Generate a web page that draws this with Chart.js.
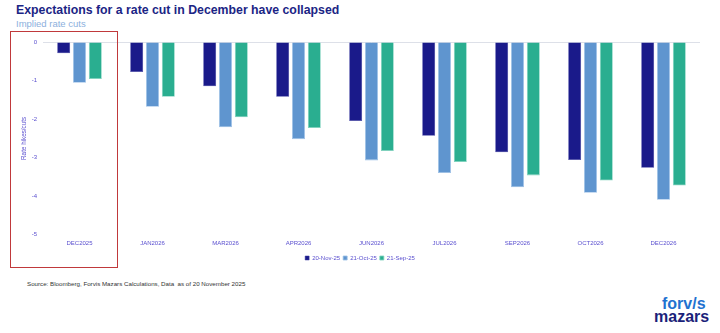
<!DOCTYPE html>
<html>
<head>
<meta charset="utf-8">
<script src="https://cdn.jsdelivr.net/npm/chart.js@4/dist/chart.umd.min.js"></script>
<style>
  body { margin: 0; width: 720px; height: 333px; background: #fff; font-family: "Liberation Sans", Arial, sans-serif; position: relative; overflow: hidden; }
  #title { position: absolute; left: 16px; top: 3px; font-size: 12.3px; font-weight: bold; color: #1b2585; white-space: nowrap; }
  #subtitle { position: absolute; left: 16px; top: 18px; font-size: 9.5px; color: #8cb0dd; }
  #box { position: absolute; left: 10px; top: 31px; width: 106px; height: 235px; border: 1.5px solid #c0393b; }
  #wrap { position: absolute; left: 0; top: 0; width: 720px; height: 275px; }
  #source { position: absolute; left: 27px; top: 280px; font-size: 6.2px; color: #333; }
  #logo { position: absolute; left: 654px; top: 297px; font-weight: bold; font-size: 16px; line-height: 13px; }
  #logo .a { color: #1f72d0; padding-left: 8px; }
  #logo .b { color: #1b1f7a; }
</style>
</head>
<body>
<div id="title">Expectations for a rate cut in December have collapsed</div>
<div id="subtitle">Implied rate cuts</div>
<div id="wrap"><canvas id="chart"></canvas></div>
<div id="box"></div>
<div id="source">Source: Bloomberg, Forvis Mazars Calculations, Data&nbsp; as of 20 November 2025</div>
<div id="logo"><div class="a">forv/s</div><div class="b">mazars</div></div>
<script>
const categories = ['DEC2025', 'JAN2026', 'MAR2026', 'APR2026', 'JUN2026', 'JUL2026', 'SEP2026', 'OCT2026', 'DEC2026'];
const nov20 = [-0.29, -0.78, -1.15, -1.42, -2.05, -2.43, -2.86, -3.06, -3.26];
const oct21 = [-1.06, -1.68, -2.21, -2.52, -3.07, -3.40, -3.77, -3.91, -4.09];
const sep21 = [-0.96, -1.42, -1.95, -2.23, -2.83, -3.11, -3.46, -3.59, -3.72];
const yTicks = [0, -1, -2, -3, -4, -5];

const tickColor = '#5a4fcf';

const ctx = document.getElementById('chart').getContext('2d');
new Chart(ctx, {
  type: 'bar',
  data: {
    labels: categories,
    datasets: [
      { label: '20-Nov-25', data: nov20, backgroundColor: '#1a1a8a', borderColor: '#3a3aa0', borderWidth: 0.5 },
      { label: '21-Oct-25', data: oct21, backgroundColor: '#5f95cf', borderColor: '#9cc0e6', borderWidth: 0.8 },
      { label: '21-Sep-25', data: sep21, backgroundColor: '#2aae90', borderColor: '#7fd2bd', borderWidth: 0.8 },
    ],
  },
  options: {
    responsive: true,
    maintainAspectRatio: false,
    animation: false,
    categoryPercentage: 0.65,
    barPercentage: 0.82,
    layout: { padding: { top: 42, left: 20, right: 20, bottom: 4 } },
    plugins: {
      legend: {
        position: 'bottom',
        labels: {
          color: tickColor,
          font: { family: 'Liberation Sans', size: 6 },
          boxWidth: 4,
          boxHeight: 4,
          padding: 3,
        },
      },
      tooltip: { enabled: false },
    },
    scales: {
      x: {
        grid: { display: false, drawTicks: false, tickLength: 0 },
        border: { display: false },
        ticks: { color: tickColor, font: { family: 'Liberation Sans', size: 6 }, maxRotation: 0, padding: 5 },
      },
      y: {
        min: -5,
        max: 0,
        afterFit: s => { s.width = 23; },
        afterBuildTicks: s => { s.ticks = yTicks.map(v => ({ value: v })); },
        border: { display: false },
        grid: {
          drawTicks: false,
          color: c => (c.tick && c.tick.value === 0 ? '#dde0e8' : 'transparent'),
        },
        title: {
          display: true,
          text: 'Rate hikes/cuts',
          color: tickColor,
          font: { family: 'Liberation Sans', size: 6.3 },
          padding: 0,
        },
        ticks: { color: tickColor, font: { family: 'Liberation Sans', size: 6 }, padding: 6 },
      },
    },
  },
});
</script>
</body>
</html>
